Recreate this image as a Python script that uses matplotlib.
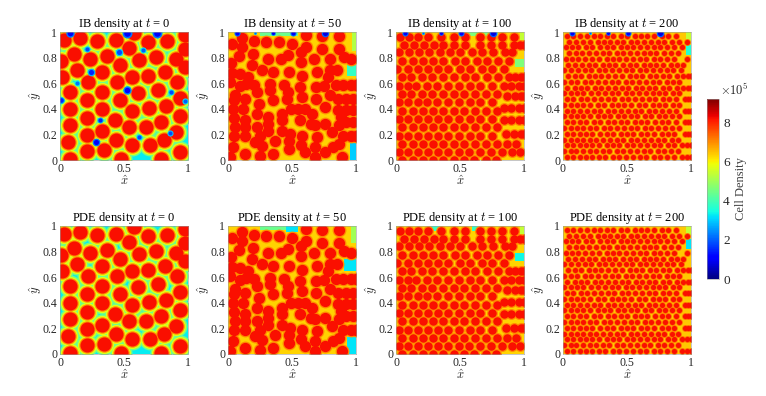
import matplotlib
matplotlib.use("Agg")
import matplotlib.pyplot as plt
from matplotlib.cm import ScalarMappable
from matplotlib.colors import Normalize
from matplotlib.patches import Rectangle

plt.rcParams['font.family'] = ['Liberation Serif', 'DejaVu Serif']
plt.rcParams['mathtext.fontset'] = 'cm'

times = [0, 50, 100, 200]
col_left = [60, 228, 396, 563]
row_bottom = [236, 42]

# blob centres, (x, y)
blobs_t0 = [
    (.03, .94), (.155, .95), (.29, .93), (.435, .94), (.575, .99), (.54, .875), (.69, .92), (.835, .93),
    (.975, .98), (.98, .87), (.11, .83), (.235, .79), (.37, .815), (.47, .745), (.62, .78), (.75, .805),
    (.905, .79), (.005, .77), (.13, .70), (.325, .69), (.015, .65), (.215, .61), (.445, .61), (.56, .645),
    (.69, .655), (.82, .685), (.98, .73), (.915, .61), (.075, .535), (.325, .535), (.61, .525), (.765, .545),
    (.935, .485), (.21, .47), (.47, .465), (.695, .41), (.825, .425), (.075, .40), (.325, .40), (.56, .38),
    (.94, .34), (.21, .33), (.43, .315), (.79, .295), (.075, .27), (.325, .23), (.54, .255), (.67, .26),
    (.81, .16), (.935, .065), (.21, .195), (.065, .14), (.435, .155), (.565, .115), (.70, .115), (.21, .07),
    (.34, .075), (.475, .01), (.08, .01), (.79, .01), (.91, .22),
]

blobs_t50 = [
    (.03, .91), (.11, .95), (.11, .885), (.20, .93), (.30, .925), (.40, .925), (.50, .91),
    (.61, .975), (.61, .885), (.735, .965), (.735, .87), (.865, .965), (.865, .87), (.96, .79), (.905, .805),
    (.02, .755), (.085, .81), (.195, .825), (.315, .79), (.415, .79), (.57, .765), (.675, .79), (.795, .79),
    (.095, .675), (.16, .65), (.265, .70), (.355, .69), (.475, .69), (.58, .66), (.695, .69), (.855, .70),
    (.78, .65), (.015, .61), (.055, .51), (.20, .585), (.225, .53), (.325, .595), (.325, .545), (.44, .585),
    (.465, .53), (.565, .57), (.69, .57), (.84, .585), (.90, .585), (.96, .585), (1.0, .585),
    (.045, .465), (.135, .48), (.24, .44), (.355, .465), (.46, .48), (.58, .49), (.685, .48), (.80, .505),
    (.86, .48), (.92, .48), (.98, .48), (.04, .40), (.12, .40), (.225, .36), (.315, .335), (.315, .28),
    (.42, .36), (.42, .31), (.55, .40), (.655, .36), (.76, .415), (.86, .39), (.92, .39), (.98, .39),
    (.055, .255), (.05, .19), (.135, .31), (.135, .255), (.225, .255), (.485, .205), (.565, .31), (.645, .28),
    (.76, .28), (.88, .335), (.92, .30), (.98, .30), (.04, .10), (.135, .19), (.21, .14), (.265, .11),
    (.37, .15), (.475, .15), (.58, .19), (.695, .18), (.815, .215), (.90, .19), (.96, .19), (1.0, .19),
    (.015, .02), (.135, .045), (.25, .035), (.355, .045), (.475, .085), (.605, .06), (.76, .06), (.865, .125),
    (.89, .02), (.315, .23), (.42, .23), (.05, .33), (.25, .19), (.57, .12), (.68, .10),
    (.03, .68), (.19, .74), (.47, .82), (.57, .84), (.80, .70), (.75, .58), (.60, .40), (.49, .40),
    (.68, .27), (.87, .27), (.82, .10), (.68, .02), (.14, .59), (.09, .58),
]

# denser panels are easier to read row by row: (y, [x, ...])
rows_t100 = [
    (.96, [.03, .10, .17, .25, .35, .45, .54, .66, .74, .83, .92]),
    (.90, [.06, .14, .22, .30, .37, .45, .54, .66, .74, .83, .92, .97, 1.0]),
    (.84, [.02, .10, .18, .26, .34, .42, .50, .59, .67, .76, .85, .91]),
    (.775, [.05, .13, .21, .29, .37, .46, .54, .63, .71, .80, .88]),
    (.71, [.01, .09, .17, .25, .33, .41, .50, .58, .67, .75, .84]),
    (.645, [.05, .12, .20, .28, .37, .45, .54, .62, .71, .80, .88, .93, .98, 1.0]),
    (.58, [.02, .09, .16, .24, .32, .41, .49, .58, .66, .75, .84, .90, .96, 1.0]),
    (.515, [.05, .12, .20, .28, .37, .45, .53, .62, .70, .79]),
    (.50, [.87, .93, .98, 1.0]),
    (.45, [.02, .09, .17, .24, .32, .41, .49, .58, .66, .75]),
    (.41, [.84, .90, .96, 1.0]),
    (.385, [.05, .13, .21, .29, .37, .45, .53, .62, .70, .79]),
    (.32, [.02, .09, .17, .25, .33, .41, .49, .58, .66, .75]),
    (.31, [.84, .90, .96, 1.0]),
    (.255, [.05, .13, .21, .29, .37, .45, .53, .62, .70, .79]),
    (.20, [.86, .92, .98, 1.0]),
    (.19, [.02, .09, .17, .25, .33, .41, .49, .58, .66, .75]),
    (.125, [.05, .13, .21, .29, .37, .45, .53, .62, .70, .79, .87, .94]),
    (.06, [.02, .09, .17, .25, .33, .41, .49, .57, .66, .74, .83, .91, .97]),
    (.0, [.05, .13, .21, .29, .37, .45, .53, .61, .70, .78]),
]

rows_t200 = [
    (.97, [.03, .08, .13, .19, .24, .29, .34, .39, .45, .50, .56, .61, .66, .71, .77, .82, .88]),
    (.925, [.05, .10, .16, .21, .27, .32, .37, .42, .47, .53, .58, .63, .69, .74, .79, .85, .91, .97]),
    (.88, [.02, .07, .12, .18, .23, .29, .34, .39, .45, .50, .55, .60, .66, .71, .76, .81, .87, .93]),
    (.835, [.05, .10, .15, .20, .26, .31, .36, .42, .47, .52, .58, .63, .68, .73, .79, .84, .90]),
    (.79, [.02, .07, .12, .17, .23, .28, .34, .39, .44, .49, .55, .60, .65, .71, .76, .81, .87, .97]),
    (.745, [.04, .09, .15, .20, .25, .31, .36, .41, .47, .52, .57, .63, .68, .73, .78, .84, .89, .94]),
    (.70, [.01, .06, .12, .17, .22, .28, .33, .38, .44, .49, .54, .60, .65, .70, .76, .81, .86, .92]),
    (.655, [.04, .09, .14, .20, .25, .30, .35, .41, .46, .52, .57, .62, .68, .73, .78, .83, .89, .94, .98, 1.0]),
    (.61, [.01, .06, .11, .17, .22, .27, .33, .38, .43, .49, .54, .59, .65, .70, .75, .81, .86, .91]),
    (.565, [.03, .09, .14, .19, .25, .30, .35, .41, .46, .51, .57, .62, .67, .72, .78, .83, .89, .94, .98, 1.0]),
    (.52, [.01, .06, .11, .16, .22, .27, .33, .38, .43, .49, .54, .59, .65, .70, .75, .80, .86, .91]),
    (.475, [.03, .08, .14, .19, .24, .30, .35, .40, .46, .51, .56, .62, .67, .72, .78, .83, .88, .95, .98, 1.0]),
    (.43, [.01, .06, .11, .16, .21, .27, .32, .38, .43, .48, .53, .59, .64, .70, .75, .80, .86, .91]),
    (.385, [.03, .08, .13, .19, .24, .29, .35, .40, .45, .51, .56, .61, .67, .72, .77, .83, .88, .95, .98, 1.0]),
    (.34, [.01, .06, .11, .16, .21, .27, .32, .37, .43, .48, .53, .58, .64, .69, .75, .80, .85, .91]),
    (.295, [.03, .08, .13, .18, .24, .29, .35, .40, .45, .50, .56, .61, .66, .72, .77, .82, .88, .95, .98, 1.0]),
    (.25, [.01, .06, .11, .16, .21, .26, .32, .37, .42, .48, .53, .58, .64, .69, .74, .80, .85, .91]),
    (.205, [.03, .08, .13, .18, .23, .29, .34, .39, .45, .50, .55, .61, .66, .71, .77, .82, .87, .95, .98, 1.0]),
    (.16, [.01, .06, .11, .16, .21, .26, .31, .37, .42, .47, .53, .58, .63, .69, .74, .79, .85, .90]),
    (.115, [.03, .08, .13, .18, .23, .28, .34, .39, .44, .50, .55, .60, .66, .71, .76, .82, .87, .93, .97, 1.0]),
    (.07, [.01, .06, .10, .16, .21, .26, .31, .36, .42, .47, .52, .58, .63, .68, .74, .79, .84, .90]),
    (.025, [.03, .08, .13, .18, .23, .28, .33, .39, .44, .49, .55, .60, .65, .71, .76, .81, .87, .93, .97, 1.0]),
]

# (radius, density) rings for each time, outermost first
rings_t0 = [(.086, 4.5), (.074, 5.8), (.064, 7.0), (.055, 8.2)]
rings_t50 = [(.054, 7.0), (.044, 8.2)]
rings_t100 = [(.043, 7.0), (.033, 8.2)]
rings_t200 = [(.027, 7.2), (.020, 8.2)]

background = {0: 3.3, 50: 6.3, 100: 6.3, 200: 6.4}

# low density areas at the edges: (x0, y0, width, height, density)
pde_areas = {
    0: [],
    50: [(.93, 0, .07, .13, 3.2), (.91, .65, .09, .09, 3.2), (.96, .87, .04, .13, 5.0),
         (.25, .97, .2, .03, 4.4), (.45, .95, .10, .05, 3.2)],
    100: [(.93, .73, .07, .06, 3.4), (.97, .85, .03, .15, 5.4), (.27, .96, .08, .04, 3.8),
          (.59, .96, .05, .04, 3.8)],
    200: [(.96, .82, .04, .08, 3.2), (.96, .90, .04, .1, 5.4)],
}
ib_areas = {
    0: [],
    50: [(.95, 0, .05, .14, 3.0), (.93, .66, .07, .08, 3.8), (.97, .85, .03, .15, 5.2),
         (.25, .97, .3, .03, 4.4)],
    100: [(.93, .73, .07, .06, 4.6), (.97, .85, .03, .15, 5.4), (.50, .97, .3, .03, 4.6)],
    200: [(.96, .82, .04, .08, 3.6), (.96, .90, .04, .1, 5.4)],
}

# dark patches of the particle runs: (x, y, radius, density)
ib_spots_t0 = [
    (.08, .99, .022, 1.0), (.52, .99, .026, 1.0), (.76, .99, .026, 1.0), (.21, .87, .016, 1.8),
    (.46, .84, .020, 1.8), (.65, .86, .016, 2.0), (.24, .69, .020, 1.5), (.52, .55, .022, 1.2),
    (.005, .47, .018, 1.5), (.31, .31, .016, 1.5), (.28, .14, .020, 1.0), (.62, .18, .016, 1.8),
    (.86, .21, .016, 1.8), (.87, .53, .016, 1.8), (.98, .46, .016, 2.0), (.13, .60, .016, 2.2),
]
ib_spots_late = [
    (.07, .995, .016, 1.0), (.21, .995, .008, 2.0), (.35, .995, .012, 1.0),
    (.51, .995, .016, 1.0), (.76, .995, .02, 0.8),
]


def expand(rows):
    return [(x, y) for y, xs in rows for x in xs]


blobs = {0: blobs_t0, 50: blobs_t50, 100: expand(rows_t100), 200: expand(rows_t200)}
rings = {0: rings_t0, 50: rings_t50, 100: rings_t100, 200: rings_t200}

norm = Normalize(0, 9.2)
cmap = plt.get_cmap('jet')
# axes are 128 px wide, 1 data unit in points
unit_pt = 128 * 72 / 100


def draw_density(ax, t, areas, spots):
    ax.set_facecolor(cmap(norm(background[t])))
    for x0, y0, w, h, v in areas:
        ax.add_patch(Rectangle((x0, y0), w, h, color=cmap(norm(v)), lw=0))
    xs = [b[0] for b in blobs[t]]
    ys = [b[1] for b in blobs[t]]
    for r, v in rings[t]:
        ax.scatter(xs, ys, s=(2 * r * unit_pt) ** 2, color=cmap(norm(v)), linewidths=0)
    for x, y, r, v in spots:
        ax.scatter([x], [y], s=(3 * r * unit_pt) ** 2, color=cmap(norm(v + 1.2)), linewidths=0)
        ax.scatter([x], [y], s=(2 * r * unit_pt) ** 2, color=cmap(norm(v)), linewidths=0)


fig = plt.figure(figsize=(7.66, 3.96), dpi=100)

for row, name in enumerate(['IB', 'PDE']):
    for col, t in enumerate(times):
        ax = fig.add_axes([col_left[col] / 766, row_bottom[row] / 396, 128 / 766, 128 / 396])
        if name == 'IB':
            draw_density(ax, t, ib_areas[t], ib_spots_t0 if t == 0 else ib_spots_late)
        else:
            draw_density(ax, t, pde_areas[t], [])
        ax.set_xlim(0, 1)
        ax.set_ylim(0, 1)
        ax.set_xticks([0, 0.5, 1], ['0', '0.5', '1'])
        ax.set_yticks([0, 0.2, 0.4, 0.6, 0.8, 1], ['0', '0.2', '0.4', '0.6', '0.8', '1'])
        ax.tick_params(length=0, labelsize=8.5, pad=2, colors='#262626')
        ax.set_xlabel(r'$\hat{x}$', fontsize=9, labelpad=0, color='#262626')
        ax.set_ylabel(r'$\hat{y}$', fontsize=9, labelpad=-1, color='#262626')
        ax.set_title(f'{name} density at $t$ = {t}', fontsize=9, pad=3)
        for s in ax.spines.values():
            s.set_linewidth(0.4)
            s.set_color('#999999')

cax = fig.add_axes([707 / 766, (396 - 279) / 396, 12 / 766, 180 / 396])
cb = fig.colorbar(ScalarMappable(norm, cmap), cax=cax)
cb.set_ticks([0, 2, 4, 6, 8])
cb.ax.tick_params(length=0, labelsize=9.5, pad=3, colors='#262626')
cb.outline.set_linewidth(0.4)
cb.outline.set_edgecolor('#999999')
cb.set_label('Cell Density', fontsize=9, labelpad=4, color='#404040')
fig.text(720 / 766, (396 - 90) / 396, r'$\times 10^5$', fontsize=9, color='#262626', va='center')

fig.savefig('out.png', dpi=100)
